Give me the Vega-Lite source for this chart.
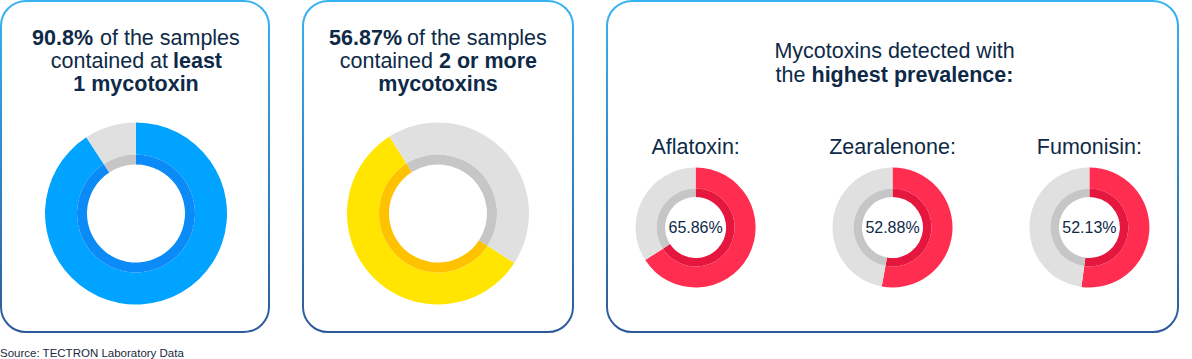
{
  "$schema": "https://vega.github.io/schema/vega-lite/v6.json",
  "background": "white",
  "padding": 0,
  "bounds": "flush",
  "spacing": 34,
  "title": {
    "text": "Source: TECTRON Laboratory Data",
    "orient": "bottom",
    "anchor": "start",
    "frame": "group",
    "offset": 15,
    "dx": -1,
    "font": "Liberation Sans",
    "fontSize": 11.5,
    "fontWeight": "normal",
    "color": "#1a2a3c"
  },
  "config": {
    "view": {
      "stroke": {"gradient": "linear", "x1": 0, "y1": 0, "x2": 0, "y2": 1, "stops": [{"offset": 0, "color": "#36B4F2"}, {"offset": 1, "color": "#2E5A9B"}]},
      "strokeWidth": 2,
      "cornerRadius": 25,
      "fill": "white"
    },
    "text": {"font": "Liberation Sans", "fontSize": 21.5, "fill": "#0E2A47", "baseline": "alphabetic"}
  },
  "hconcat": [
    {
      "width": 268,
      "height": 331,
      "view": {
        "stroke": {"gradient": "linear", "x1": 0, "y1": 0, "x2": 0, "y2": 1, "stops": [{"offset": 0, "color": "#36B4F2"}, {"offset": 1, "color": "#2E5A9B"}]},
        "strokeWidth": 2,
        "cornerRadius": 25,
        "fill": "white"
      },
      "layer": [
        {
          "data": {"values": [{"part": "detected", "pct": 90.8}, {"part": "not detected", "pct": 9.2}]},
          "encoding": {
            "theta": {"field": "pct", "type": "quantitative", "stack": true},
            "order": {"field": "part", "type": "nominal"}
          },
          "layer": [
            {"mark": {"type": "arc", "outerRadius": 91, "innerRadius": 59, "xOffset": 1, "yOffset": 47},
             "encoding": {"color": {"condition": {"test": "datum.part === 'detected'", "value": "#00A3FF"}, "value": "#E0E0E0"}}},
            {"mark": {"type": "arc", "outerRadius": 59, "innerRadius": 49, "xOffset": 1, "yOffset": 47},
             "encoding": {"color": {"condition": {"test": "datum.part === 'detected'", "value": "#0A8BF7"}, "value": "#C6C6C6"}}}
          ]
        },
        {"data": {"values": [{"t": "90.8%"}]}, "mark": {"type": "text", "fontWeight": "bold", "align": "right", "dx": -42, "dy": -121.5}, "encoding": {"text": {"field": "t"}}},
        {"data": {"values": [{"t": "of the samples"}]}, "mark": {"type": "text", "align": "left", "dx": -35, "dy": -121.5}, "encoding": {"text": {"field": "t"}}},
        {"data": {"values": [{"t": "contained at"}]}, "mark": {"type": "text", "align": "right", "dx": 33, "dy": -98.5}, "encoding": {"text": {"field": "t"}}},
        {"data": {"values": [{"t": "least"}]}, "mark": {"type": "text", "fontWeight": "bold", "align": "left", "dx": 38, "dy": -98.5}, "encoding": {"text": {"field": "t"}}},
        {"data": {"values": [{"t": "1 mycotoxin"}]}, "mark": {"type": "text", "fontWeight": "bold", "align": "center", "dx": 1, "dy": -75.5}, "encoding": {"text": {"field": "t"}}}
      ]
    },
    {
      "width": 270,
      "height": 331,
      "view": {
        "stroke": {"gradient": "linear", "x1": 0, "y1": 0, "x2": 0, "y2": 1, "stops": [{"offset": 0, "color": "#36B4F2"}, {"offset": 1, "color": "#2E5A9B"}]},
        "strokeWidth": 2,
        "cornerRadius": 25,
        "fill": "white"
      },
      "layer": [
        {
          "data": {"values": [{"part": "detected", "pct": 56.87}, {"part": "not detected", "pct": 43.13}]},
          "encoding": {
            "theta": {"field": "pct", "type": "quantitative", "stack": true, "scale": {"range": [2.147, 8.430]}},
            "order": {"field": "part", "type": "nominal"}
          },
          "layer": [
            {"mark": {"type": "arc", "outerRadius": 91, "innerRadius": 59, "yOffset": 47},
             "encoding": {"color": {"condition": {"test": "datum.part === 'detected'", "value": "#FFE500"}, "value": "#E0E0E0"}}},
            {"mark": {"type": "arc", "outerRadius": 59, "innerRadius": 49, "yOffset": 47},
             "encoding": {"color": {"condition": {"test": "datum.part === 'detected'", "value": "#FFC200"}, "value": "#C6C6C6"}}}
          ]
        },
        {"data": {"values": [{"t": "56.87%"}]}, "mark": {"type": "text", "fontWeight": "bold", "align": "right", "dx": -36, "dy": -121.5}, "encoding": {"text": {"field": "t"}}},
        {"data": {"values": [{"t": "of the samples"}]}, "mark": {"type": "text", "align": "left", "dx": -31, "dy": -121.5}, "encoding": {"text": {"field": "t"}}},
        {"data": {"values": [{"t": "contained"}]}, "mark": {"type": "text", "align": "right", "dx": -5, "dy": -98.5}, "encoding": {"text": {"field": "t"}}},
        {"data": {"values": [{"t": "2 or more"}]}, "mark": {"type": "text", "fontWeight": "bold", "align": "left", "dx": 1, "dy": -98.5}, "encoding": {"text": {"field": "t"}}},
        {"data": {"values": [{"t": "mycotoxins"}]}, "mark": {"type": "text", "fontWeight": "bold", "align": "center", "dx": 0, "dy": -75.5}, "encoding": {"text": {"field": "t"}}}
      ]
    },
    {
      "width": 571,
      "height": 331,
      "layer": [
        {
          "data": {"values": [
            {"toxin": "Aflatoxin", "label": "Aflatoxin:", "part": "detected", "share": 0.6586},
            {"toxin": "Aflatoxin", "label": "Aflatoxin:", "part": "not detected", "share": 0.3414},
            {"toxin": "Zearalenone", "label": "Zearalenone:", "part": "detected", "share": 0.5288},
            {"toxin": "Zearalenone", "label": "Zearalenone:", "part": "not detected", "share": 0.4712},
            {"toxin": "Fumonisin", "label": "Fumonisin:", "part": "detected", "share": 0.5213},
            {"toxin": "Fumonisin", "label": "Fumonisin:", "part": "not detected", "share": 0.4787}
          ]},
          "transform": [
            {"stack": "share", "groupby": ["toxin"], "sort": [{"field": "part", "order": "ascending"}], "as": ["s0", "s1"]}
          ],
          "encoding": {
            "x": {"field": "toxin", "type": "nominal", "sort": null, "axis": null,
                  "scale": {"type": "point", "domain": ["Aflatoxin", "Zearalenone", "Fumonisin"], "padding": 0.45}}
          },
          "layer": [
            {"mark": {"type": "arc", "outerRadius": 60, "innerRadius": 39, "yOffset": 61},
             "encoding": {
               "theta": {"field": "s0", "type": "quantitative", "scale": {"domain": [0, 1]}},
               "theta2": {"field": "s1"},
               "color": {"condition": {"test": "datum.part === 'detected'", "value": "#FF2E50"}, "value": "#E0E0E0"}}},
            {"mark": {"type": "arc", "outerRadius": 39, "innerRadius": 30.5, "yOffset": 61},
             "encoding": {
               "theta": {"field": "s0", "type": "quantitative", "scale": {"domain": [0, 1]}},
               "theta2": {"field": "s1"},
               "color": {"condition": {"test": "datum.part === 'detected'", "value": "#E5173F"}, "value": "#C6C6C6"}}},
            {"transform": [{"filter": "datum.part === 'detected'"}],
             "mark": {"type": "text", "align": "center", "dy": -13},
             "encoding": {"text": {"field": "label"}}},
            {"transform": [{"filter": "datum.part === 'detected'"}],
             "mark": {"type": "text", "align": "center", "baseline": "middle", "fontSize": 16, "dy": 61.5},
             "encoding": {"text": {"field": "share", "type": "quantitative", "format": ".2%"}}}
          ]
        },
        {"data": {"values": [{"t": "Mycotoxins detected with"}]}, "mark": {"type": "text", "align": "center", "dx": 2, "dy": -108.5}, "encoding": {"text": {"field": "t"}}},
        {"data": {"values": [{"t": "the"}]}, "mark": {"type": "text", "align": "right", "dx": -87, "dy": -84.5}, "encoding": {"text": {"field": "t"}}},
        {"data": {"values": [{"t": "highest prevalence:"}]}, "mark": {"type": "text", "fontWeight": "bold", "align": "left", "dx": -81, "dy": -84.5}, "encoding": {"text": {"field": "t"}}}
      ]
    }
  ]
}
